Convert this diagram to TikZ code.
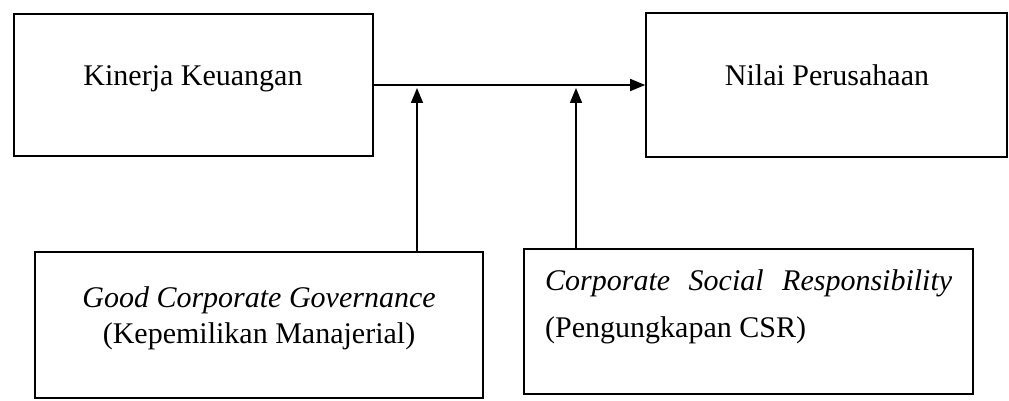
\documentclass[tikz,border=0pt]{standalone}
\usepackage{fontspec}
\setmainfont{Liberation Serif}
\usetikzlibrary{arrows.meta}
\begin{document}
\begin{tikzpicture}[x=1pt,y=-1pt,
  box/.style={draw=black,line width=1.6pt,rectangle,inner sep=0pt},
  lbl/.style={inner sep=0pt,anchor=base,font=\fontsize{30}{36}\selectfont},
  conn/.style={line width=1.6pt,-{Triangle[length=15pt,width=12pt]}}]
\useasboundingbox (0,0) rectangle (1009,401);
\node[box,minimum width=359pt,minimum height=142pt] (kk) at (193.5,85) {};
\node[box,minimum width=361pt,minimum height=144pt] (np) at (826.5,85) {};
\node[box,minimum width=448pt,minimum height=146pt] (gcg) at (259,325) {};
\node[box,minimum width=449pt,minimum height=145pt] (csr) at (748.5,321.5) {};
\node[lbl] (tkk) at (193,86) {Kinerja Keuangan};
\node[lbl] (tnp) at (827,86) {Nilai Perusahaan};
\node[lbl] (tg1) at (259,307) {\itshape Good Corporate Governance};
\node[lbl] (tg2) at (259,343) {(Kepemilikan Manajerial)};
\node[lbl,anchor=base west] (tc1) at (545,290) {\makebox[407pt][s]{\itshape Corporate\hfill Social\hfill Responsibility}};
\node[lbl,anchor=base west] (tc2) at (545,337) {(Pengungkapan CSR)};
\coordinate (t1) at (417,88);
\coordinate (t2) at (576,88);
\draw[conn] (kk.east) -- (np.west);
\draw[conn] (gcg.north -| t1) -- (t1);
\draw[conn] (csr.north -| t2) -- (t2);
\end{tikzpicture}
\end{document}
